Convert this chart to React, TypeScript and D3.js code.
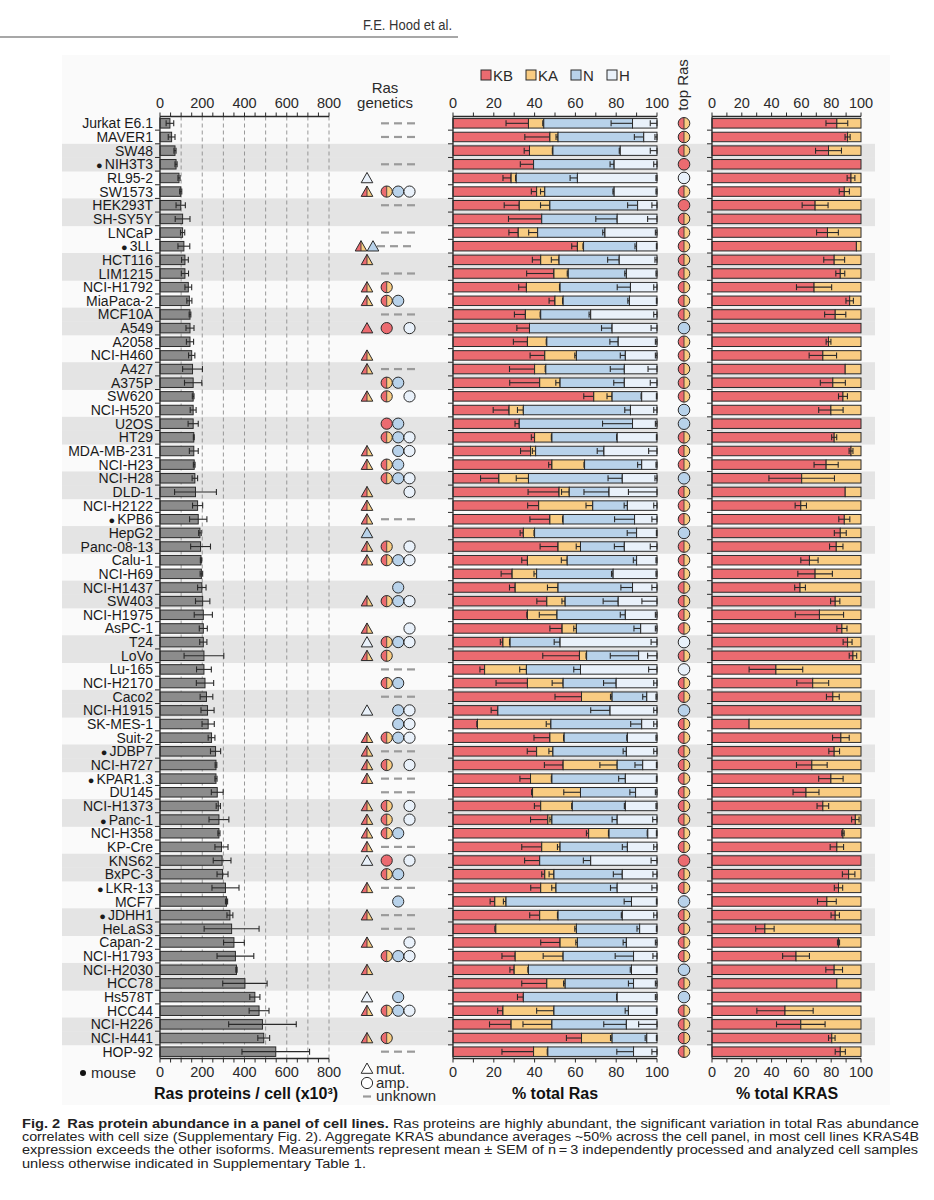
import React from "react";
import * as d3 from "d3";

// cell lines, ordered by total Ras abundance (top to bottom)
const cellLines = [
  "Jurkat E6.1", "MAVER1", "SW48", "NIH3T3", "RL95-2", "SW1573", "HEK293T", "SH-SY5Y",
  "LNCaP", "3LL", "HCT116", "LIM1215", "NCI-H1792", "MiaPaca-2", "MCF10A", "A549",
  "A2058", "NCI-H460", "A427", "A375P", "SW620", "NCI-H520", "U2OS", "HT29",
  "MDA-MB-231", "NCI-H23", "NCI-H28", "DLD-1", "NCI-H2122", "KPB6", "HepG2", "Panc-08-13",
  "Calu-1", "NCI-H69", "NCI-H1437", "SW403", "NCI-H1975", "AsPC-1", "T24", "LoVo",
  "Lu-165", "NCI-H2170", "Caco2", "NCI-H1915", "SK-MES-1", "Suit-2", "JDBP7", "NCI-H727",
  "KPAR1.3", "DU145", "NCI-H1373", "Panc-1", "NCI-H358", "KP-Cre", "KNS62", "BxPC-3",
  "LKR-13", "MCF7", "JDHH1", "HeLaS3", "Capan-2", "NCI-H1793", "NCI-H2030", "HCC78",
  "Hs578T", "HCC44", "NCI-H226", "NCI-H441", "HOP-92",
];
const mouseLines = ["NIH3T3", "3LL", "KPB6", "JDBP7", "KPAR1.3", "Panc-1", "LKR-13", "JDHH1"];

// Ras proteins / cell (x10^3), mean and SEM
const totalRas = [
  47, 55, 71, 76, 90, 98, 98, 107, 107, 113, 118, 118, 134, 139, 142, 142,
  142, 150, 154, 157, 157, 157, 157, 160, 160, 162, 165, 168, 178, 181, 189, 192,
  194, 196, 198, 202, 205, 205, 205, 208, 208, 213, 220, 225, 228, 244, 263, 265,
  265, 271, 276, 279, 279, 291, 294, 296, 310, 315, 331, 339, 350, 357, 362, 402,
  449, 469, 485, 491, 548,
];
const totalRasSem = [
  18, 16, 5, 5, 5, 5, 22, 35, 10, 28, 16, 17, 16, 12, 4, 19,
  17, 15, 47, 41, 4, 14, 24, 2, 21, 4, 13, 99, 24, 41, 6, 47,
  3, 6, 20, 34, 43, 19, 17, 94, 35, 41, 30, 31, 29, 16, 24, 4,
  5, 28, 10, 47, 5, 31, 42, 26, 64, 5, 14, 130, 49, 87, 3, 105,
  24, 47, 160, 28, 160,
];

// % of total Ras per isoform
const kbShare = [
  37, 47.5, 37.5, 39.5, 28.5, 41, 32.5, 43.5, 32, 61, 43, 49.5, 36, 50, 35.5, 37.5,
  36.5, 45, 40, 42.5, 69, 27.5, 32.5, 40, 38, 48.5, 22.5, 52, 42, 47.5, 34.5, 51.5,
  36.5, 29, 30.5, 46, 36.5, 53.5, 24.5, 62, 15.5, 36.5, 63, 22, 12, 47.5, 41, 54,
  38, 39, 43, 46.5, 66.5, 43.5, 42.5, 45, 43, 20.5, 42.5, 21, 52.5, 30.5, 30, 46,
  34.5, 24.5, 28.5, 63, 39.5,
];
const kaShare = [
  7.5, 4, 11.5, 0, 2.5, 4, 15, 0, 9.5, 3, 9, 7, 16.5, 4, 7.5, 0,
  9.5, 15.5, 5.5, 10, 9, 7, 0, 8.5, 2.5, 16, 14.5, 5, 26.5, 6.5, 5.5, 11,
  19.5, 12, 21, 9, 14.5, 7, 3.5, 3.5, 20.5, 17.5, 15, 0, 36, 7, 8, 26.5,
  10.5, 23.5, 15.5, 2, 10, 9, 0, 4.5, 7.5, 5.5, 9, 39.5, 8.5, 23.5, 7, 9,
  0, 25, 20, 15, 7,
];
const nShare = [
  43.5, 42, 33, 39.5, 30, 34, 43, 37, 33, 26, 29.5, 28.5, 34.5, 32.5, 24.5, 40.5,
  35, 24, 38.5, 31.5, 14.5, 52.5, 55.5, 32, 33.5, 28, 46, 19.5, 17, 35, 50, 21.5,
  34, 37.5, 36.5, 26, 33.5, 31.5, 24.5, 25.5, 26.5, 26, 17, 55, 44.5, 31, 36, 12.5,
  36, 27, 26, 32, 19, 33, 25, 33.5, 30, 61.5, 31.5, 31, 24, 34.5, 50.5, 33.5,
  46, 36.5, 36.5, 17, 42,
];
const hShare = [
  12, 6.5, 18, 21, 39, 21, 9.5, 19.5, 25.5, 10, 18.5, 15, 13, 13.5, 32.5, 22,
  19, 15.5, 16, 16, 7.5, 13, 12, 19.5, 26, 7.5, 17, 23.5, 14.5, 11, 10, 16,
  10, 21.5, 12, 19, 15.5, 8, 47.5, 9, 37.5, 20, 5, 23, 7.5, 14.5, 15, 7,
  15.5, 10.5, 15.5, 19.5, 4.5, 14.5, 32.5, 17, 19.5, 12.5, 17, 8.5, 15, 11.5, 12.5, 11.5,
  19.5, 14, 15, 5, 11.5,
];
const kbShareSem = [
  11, 12.3, 2.6, 6.5, 4, 2.6, 7.4, 16.3, 4.6, 2.8, 4.1, 13.4, 3.8, 2.9, 5.4, 6.2,
  6.9, 7.2, 12.3, 14.7, 4.9, 7.8, 2.1, 1.6, 4.9, 1.6, 9, 15.2, 5.4, 9.8, 1.6, 8.8,
  2.8, 5.4, 2.8, 4.9, 0.3, 6, 1.3, 18, 2.3, 15.4, 13, 3.3, 0.3, 7.8, 4.6, 9.2,
  5.2, 0.5, 3.1, 8.5, 1.1, 9.8, 7.4, 1.5, 4.9, 2.3, 4.9, 0.5, 9.5, 6.5, 2.1, 12.3,
  2.9, 2.6, 10.6, 7.4, 15.5,
];
const kaShareSem = [
  0.5, 1, 0.3, 0, 0.3, 2.1, 4.6, 0, 4.4, 0.3, 3.8, 0.5, 0.3, 0.3, 0.3, 0,
  0.3, 0.8, 0.3, 2.1, 2.5, 2.9, 0, 0.3, 1.6, 0.3, 6, 3.8, 3.3, 0.3, 0.3, 2.1,
  2.9, 1.3, 5.2, 1.6, 8.7, 1.3, 0.3, 0.3, 3.3, 5.4, 0.8, 0, 2.3, 0.3, 2, 8.5,
  0.3, 8.2, 0.3, 1, 0.3, 1.3, 0, 2.4, 2.1, 1.3, 0.3, 0.8, 0.8, 9.8, 0.3, 0.8,
  0, 8.5, 14.2, 0.8, 0.3,
];
const nShareSem = [
  10.5, 4.6, 0.5, 2, 3.6, 0.6, 4.9, 10.5, 1.1, 0.8, 5.7, 0.8, 6.5, 0.8, 0.8, 5.2,
  4.1, 2.5, 6.9, 5.2, 0.3, 2.8, 14.7, 0.3, 3.3, 2, 7, 12.3, 1.6, 9.8, 4.6, 4.9,
  1.6, 0.8, 5.7, 7.4, 2.5, 3.3, 2.9, 13.9, 3.3, 6.2, 2, 9.5, 5.4, 0.3, 1.6, 3.8,
  3.3, 2.8, 0.5, 2.5, 0.3, 2.5, 3.6, 4.4, 3.3, 3.6, 0.5, 1.3, 1.6, 9, 0.6, 2.5,
  0.3, 1.6, 11.1, 0.8, 8.2,
];
const hShareSem = [
  3.3, 1, 3.3, 1.6, 0.5, 0.5, 2.5, 4.6, 0.8, 0.3, 1, 0.5, 1.6, 0.3, 1.6, 2.9,
  0.8, 0.8, 4.4, 3.3, 0.3, 1.6, 0.8, 0.3, 4.1, 0.5, 1, 14, 1.6, 2.5, 0.3, 3.3,
  0.5, 0.5, 2.5, 7.4, 0.8, 0.8, 2.9, 4.6, 4.1, 1.6, 0.5, 1.6, 1.6, 0.5, 1.6, 0.3,
  0.3, 0.8, 0.5, 2.1, 0.3, 1.6, 2.9, 2, 2.5, 0.3, 1.6, 0.3, 0.8, 2, 0.3, 0.8,
  0.8, 0.3, 9, 0.3, 2.5,
];

// KRAS4B as % of total KRAS
const kbOfKras = [
  83.8, 91, 78.2, 100, 93.3, 88.8, 69.2, 100, 77.5, 96.9, 82, 86.1, 68.5, 92.4, 82.7, 100,
  78.2, 74.4, 89.4, 81.1, 87.9, 79.8, 100, 82, 93.3, 76.6, 60.2, 89.4, 59.6, 88.8, 86.1, 83.4,
  65.4, 69.2, 59.1, 82.7, 72.1, 87.2, 91, 94.6, 42.9, 67.6, 81.1, 100, 24.9, 86.5, 82, 67,
  79.8, 63.1, 74.4, 96.2, 87.9, 83.8, 100, 91.7, 84.9, 77.1, 82.7, 35.5, 84.9, 56.4, 82, 83.8,
  100, 49, 59.6, 80.4, 86.1,
];
const kbOfKrasSem = [
  7.3, 1.7, 8.7, 0, 2.6, 3.4, 8.7, 0, 7.3, 0, 7, 3, 11.8, 2.5, 7.1, 0,
  1.6, 9.2, 0, 8.4, 3, 8.2, 0, 1.7, 1.3, 8.1, 22, 0, 3.8, 3.7, 4, 4.5,
  5.8, 11.6, 3.6, 3.1, 16.2, 3.4, 3, 2.5, 18, 10.7, 4.3, 0, 0, 5.6, 3.6, 10.3,
  8.2, 8.7, 3.9, 2.5, 0.8, 4.5, 0, 4.2, 2.8, 6.3, 2.8, 6.2, 0.7, 9, 5.6, 0,
  0, 18.9, 16.3, 2.2, 3.4,
];

// most abundant isoform: K = KRAS (4A/4B), R = KRAS4B only, N = NRAS, H = HRAS
const topRas = [
  "K", "K", "K", "R", "H", "K", "R", "K", "K", "K", "K", "K", "K", "K", "K", "N",
  "K", "K", "K", "K", "K", "N", "N", "K", "K", "K", "N", "K", "K", "K", "N", "K",
  "K", "K", "K", "K", "K", "K", "H", "K", "H", "K", "K", "N", "K", "K", "K", "K",
  "K", "K", "K", "K", "K", "K", "R", "K", "K", "N", "K", "K", "K", "K", "N", "K",
  "N", "K", "K", "K", "K",
];

// Ras genetics: KM/KMr/NM/HM = mutation, KA/KAr/NA/HA = amplification, U = unknown
const genetics = [
  "U", "U", "", "U", "HM", "KM KA NA HA", "U", "", "U", "KM NM U", "KM", "U", "KM KA", "KM KA NA", "U", "KMr KAr HA",
  "", "KM", "KM U", "KA NA", "KM KA HA", "", "KAr NA", "KA NA HA", "KM NA HA", "KM KA NA", "KA NA HA", "KM HA", "KM", "KM U", "NM", "KM KA HA",
  "KM KA NA HA", "", "NA", "KM KA NA HA", "", "KM HA", "HM KA NA HA", "KM KA", "U", "KA NA", "U", "HM NA HA", "NA HA", "KM KA NA HA", "KM U", "KM KA HA",
  "KM U", "U", "KM KA HA", "KM KA HA", "KM KA NA", "KM U", "HM KAr HA", "KA NA", "KM U", "NA", "KM U", "U", "KM HA", "KA NA HA", "KM", "",
  "HM NA", "KM KA NA HA", "", "KM KA", "U",
];

const isoforms = ["KB", "KA", "N", "H"];
const isoformColor = { KB: "#eb6b70", KA: "#f9cc82", N: "#b8d2ea", H: "#e9f1fa" };
const captionLines = [
  "correlates with cell size (Supplementary Fig. 2). Aggregate KRAS abundance averages ~50% across the cell panel, in most cell lines KRAS4B",
  "expression exceeds the other isoforms. Measurements represent mean \u00b1 SEM of n\u2009=\u20093 independently processed and analyzed cell samples",
  "unless otherwise indicated in Supplementary Table 1.",
];

const FONT = "'Liberation Sans', Arial, Helvetica, sans-serif";
const INK = "#2a2a2a";

const App = () => {
  const y = d3.scaleBand().domain(cellLines).range([116.5, 1058.5]);
  const bw = y.bandwidth();
  const cy = (name: string) => (y(name) as number) + bw / 2;
  const barH = 9.5;

  const xTot = d3.scaleLinear().domain([0, 800]).range([160, 329]);
  const xRas = d3.scaleLinear().domain([0, 100]).range([453, 657]);
  const xKras = d3.scaleLinear().domain([0, 100]).range([712, 861]);

  const rows = cellLines.map((name, i) => ({
    name,
    KB: kbShare[i],
    KA: kaShare[i],
    N: nShare[i],
    H: hShare[i],
  }));
  const series = d3.stack().keys(isoforms)(rows as any);
  const semOf: Record<string, number[]> = { KB: kbShareSem, KA: kaShareSem, N: nShareSem, H: hShareSem };

  const axisTop = 116.5;
  const axisBottom = 1058.5;

  const hAxis = (scale: d3.ScaleLinear<number, number>, step: number, labelStep: number, yPos: number, dir: number, key: string) => {
    const [d0, d1] = scale.domain();
    const ticks = d3.range(d0, d1 + 0.001, step);
    return (
      <g key={key}>
        <line x1={scale(d0)} x2={scale(d1)} y1={yPos} y2={yPos} stroke={INK} strokeWidth={1.3} />
        {ticks.map((t) => (
          <line key={t} x1={scale(t)} x2={scale(t)} y1={yPos} y2={yPos + dir * 4} stroke={INK} strokeWidth={1} />
        ))}
        {ticks
          .filter((t) => Math.abs(t % labelStep) < 1e-6)
          .map((t) => (
            <text
              key={"l" + t}
              x={scale(t)}
              y={dir < 0 ? yPos - 8.5 : yPos + 18.5}
              textAnchor="middle"
              fontSize={14.5}
              fill={INK}
            >
              {t}
            </text>
          ))}
      </g>
    );
  };

  const vAxis = (x0: number, key: string) => (
    <g key={key}>
      <line x1={x0} x2={x0} y1={axisTop} y2={axisBottom} stroke={INK} strokeWidth={1.3} />
      {cellLines.slice(1).map((name) => (
        <line key={name} x1={x0 - 5} x2={x0} y1={y(name)} y2={y(name)} stroke={INK} strokeWidth={1} />
      ))}
    </g>
  );

  const triangle = (kind: string, cx: number, cyy: number, key: string) => {
    const w = 5.8;
    const top = cyy - 5.5;
    const bot = cyy + 4.8;
    const outline = `M${cx - w},${bot}L${cx},${top}L${cx + w},${bot}Z`;
    if (kind === "KM") {
      return (
        <g key={key}>
          <path d={`M${cx - w},${bot}L${cx},${top}L${cx},${bot}Z`} fill={isoformColor.KB} />
          <path d={`M${cx},${bot}L${cx},${top}L${cx + w},${bot}Z`} fill={isoformColor.KA} />
          <line x1={cx} x2={cx} y1={top} y2={bot} stroke={INK} strokeWidth={0.8} />
          <path d={outline} fill="none" stroke={INK} strokeWidth={1} strokeLinejoin="round" />
        </g>
      );
    }
    const fill = kind === "KMr" ? isoformColor.KB : kind === "NM" ? isoformColor.N : kind === "legend" ? "#fff" : isoformColor.H;
    return <path key={key} d={outline} fill={fill} stroke={INK} strokeWidth={1} strokeLinejoin="round" />;
  };

  const circle = (kind: string, cx: number, cyy: number, key: string, r = 5.6) => {
    if (kind === "half") {
      return (
        <g key={key}>
          <path d={`M${cx},${cyy - r}A${r},${r} 0 0 0 ${cx},${cyy + r}Z`} fill={isoformColor.KB} />
          <path d={`M${cx},${cyy - r}A${r},${r} 0 0 1 ${cx},${cyy + r}Z`} fill={isoformColor.KA} />
          <line x1={cx} x2={cx} y1={cyy - r} y2={cyy + r} stroke={INK} strokeWidth={0.8} />
          <circle cx={cx} cy={cyy} r={r} fill="none" stroke={INK} strokeWidth={1} />
        </g>
      );
    }
    const fill = kind === "red" ? isoformColor.KB : kind === "blue" ? isoformColor.N : isoformColor.H;
    return <circle key={key} cx={cx} cy={cyy} r={r} fill={fill} stroke={INK} strokeWidth={1} />;
  };

  const dashes = (x0: number, cyy: number, key: string) => (
    <g key={key}>
      {[0, 1, 2].map((k) => (
        <line key={k} x1={x0 + k * 13} x2={x0 + k * 13 + 8} y1={cyy} y2={cyy} stroke="#9a9a9a" strokeWidth={2.2} />
      ))}
    </g>
  );

  return (
    <svg
      width={934}
      height={1200}
      style={{ position: "absolute", left: 0, top: 0, background: "#fff" }}
      fontFamily={FONT}
    >
      {/* page header */}
      <text x={452} y={30} textAnchor="end" fontSize={14} fill="#333" textLength={89} lengthAdjust="spacingAndGlyphs">
        F.E. Hood et al.
      </text>
      <line x1={0} x2={458} y1={37} y2={37} stroke="#8a8a8a" strokeWidth={1.3} />

      {/* figure background */}
      <rect x={62} y={55} width={828} height={1050} fill="#fafafa" />

      {/* row bands */}
      {cellLines.map((name, i) =>
        i % 4 === 2 || i % 4 === 3 ? (
          <rect key={name} x={62} y={y(name)} width={813} height={bw + 0.4} fill="#e4e4e4" />
        ) : null
      )}

      {/* ---- total Ras panel ---- */}
      {d3.range(100, 801, 100).map((t) => (
        <line
          key={t}
          x1={xTot(t)}
          x2={xTot(t)}
          y1={axisTop}
          y2={axisBottom}
          stroke="#8d8d8d"
          strokeWidth={0.9}
          strokeDasharray="4,3"
        />
      ))}
      {cellLines.map((name, i) => {
        const c = cy(name);
        const v = totalRas[i];
        const e = totalRasSem[i];
        return (
          <g key={name}>
            <rect x={xTot(0)} y={c - barH / 2} width={xTot(v) - xTot(0)} height={barH} fill="#8c8c8c" stroke={INK} strokeWidth={1} />
            <line x1={xTot(v - e)} x2={xTot(v + e)} y1={c} y2={c} stroke={INK} strokeWidth={1.1} />
            <line x1={xTot(v - e)} x2={xTot(v - e)} y1={c - 3} y2={c + 3} stroke={INK} strokeWidth={1.1} />
            <line x1={xTot(v + e)} x2={xTot(v + e)} y1={c - 3} y2={c + 3} stroke={INK} strokeWidth={1.1} />
          </g>
        );
      })}
      {vAxis(xTot(0), "vTot")}
      {hAxis(xTot, 50, 200, axisTop, -1, "tTot")}
      {hAxis(xTot, 50, 200, axisBottom, 1, "bTot")}
      {cellLines.map((name) => (
        <text key={name} x={153} y={cy(name) + 5} textAnchor="end" fontSize={14} fill="#1a1a1a">
          {mouseLines.includes(name) ? (
            <>
              <tspan fontSize={11}>{"\u25cf"}</tspan>
              <tspan dx={2}>{name}</tspan>
            </>
          ) : (
            name
          )}
        </text>
      ))}

      {/* ---- Ras genetics ---- */}
      <text x={385} y={93} textAnchor="middle" fontSize={15} fill={INK}>Ras</text>
      <text x={385} y={108} textAnchor="middle" fontSize={15} fill={INK}>genetics</text>
      {cellLines.map((name, i) => {
        const c = cy(name);
        const tokens = genetics[i].split(" ").filter(Boolean);
        const tris = tokens.filter((t) => t.endsWith("M") || t === "KMr");
        const out: React.ReactNode[] = [];
        tris.forEach((t, j) => {
          const cx = 367 + (j - (tris.length - 1) / 2) * 12;
          out.push(triangle(t, cx, c, "t" + j));
        });
        tokens.forEach((t) => {
          if (t === "KA") out.push(circle("half", 386.7, c, t));
          if (t === "KAr") out.push(circle("red", 386.7, c, t));
          if (t === "NA") out.push(circle("blue", 398.2, c, t));
          if (t === "HA") out.push(circle("white", 409.5, c, t));
          if (t === "U") out.push(dashes(tris.length > 1 ? 377 : 381, c, t));
        });
        return <g key={name}>{out}</g>;
      })}

      {/* ---- % total Ras panel ---- */}
      {[
        ["KB", 481],
        ["KA", 526],
        ["N", 571],
        ["H", 607],
      ].map(([k, x]) => (
        <g key={k as string}>
          <rect x={x as number} y={70} width={10} height={10} fill={(isoformColor as any)[k as string]} stroke={INK} strokeWidth={1} />
          <text x={(x as number) + 12} y={80.5} fontSize={15} fill={INK}>
            {k}
          </text>
        </g>
      ))}
      {series.map((s) => (
        <g key={s.key}>
          {s.map((d, i) => {
            const c = cy(cellLines[i]);
            const e = semOf[s.key][i];
            const x1 = xRas(d[1]);
            const xe = xRas(d[1] - e);
            return (
              <g key={i}>
                <rect
                  x={xRas(d[0])}
                  y={c - barH / 2}
                  width={Math.max(0, xRas(d[1]) - xRas(d[0]))}
                  height={barH}
                  fill={(isoformColor as any)[s.key]}
                  stroke={INK}
                  strokeWidth={1}
                />
                {e > 0 ? (
                  <g stroke={INK} strokeWidth={1.1}>
                    <line x1={xe} x2={x1} y1={c} y2={c} />
                    <line x1={xe} x2={xe} y1={c - 3} y2={c + 3} />
                    <line x1={x1} x2={x1} y1={c - 3} y2={c + 3} />
                  </g>
                ) : null}
              </g>
            );
          })}
        </g>
      ))}
      {vAxis(xRas(0), "vRas")}
      {hAxis(xRas, 10, 20, axisTop, -1, "tRas")}
      {hAxis(xRas, 10, 20, axisBottom, 1, "bRas")}

      {/* ---- top Ras ---- */}
      <text transform="translate(688,85) rotate(-90)" textAnchor="middle" fontSize={15} fill={INK}>
        top Ras
      </text>
      {cellLines.map((name, i) => {
        const t = topRas[i];
        const kind = t === "K" ? "half" : t === "R" ? "red" : t === "N" ? "blue" : "white";
        return circle(kind, 684, cy(name), name, 5.8);
      })}

      {/* ---- % total KRAS panel ---- */}
      {cellLines.map((name, i) => {
        const c = cy(name);
        const v = kbOfKras[i];
        const e = kbOfKrasSem[i];
        return (
          <g key={name}>
            <rect x={xKras(0)} y={c - barH / 2} width={xKras(v) - xKras(0)} height={barH} fill={isoformColor.KB} stroke={INK} strokeWidth={1} />
            {v < 100 ? (
              <rect x={xKras(v)} y={c - barH / 2} width={xKras(100) - xKras(v)} height={barH} fill={isoformColor.KA} stroke={INK} strokeWidth={1} />
            ) : null}
            {e > 0 ? (
              <g stroke={INK} strokeWidth={1.1}>
                <line x1={xKras(v - e)} x2={xKras(v + e)} y1={c} y2={c} />
                <line x1={xKras(v - e)} x2={xKras(v - e)} y1={c - 3} y2={c + 3} />
                <line x1={xKras(v + e)} x2={xKras(v + e)} y1={c - 3} y2={c + 3} />
              </g>
            ) : null}
          </g>
        );
      })}
      {vAxis(xKras(0), "vKras")}
      {hAxis(xKras, 10, 20, axisTop, -1, "tKras")}
      {hAxis(xKras, 10, 20, axisBottom, 1, "bKras")}

      {/* ---- axis titles & legends ---- */}
      <text x={246} y={1099} textAnchor="middle" fontSize={16} fontWeight="bold" fill="#111">
        Ras proteins / cell (x10{"\u00b3"})
      </text>
      <text x={555} y={1099} textAnchor="middle" fontSize={16} fontWeight="bold" fill="#111">
        % total Ras
      </text>
      <text x={787} y={1099} textAnchor="middle" fontSize={16} fontWeight="bold" fill="#111">
        % total KRAS
      </text>
      <circle cx={83} cy={1073} r={3} fill="#111" />
      <text x={91} y={1078} fontSize={15} fill={INK}>mouse</text>
      {triangle("legend", 367, 1068.5, "lgT")}
      <text x={376} y={1073.5} fontSize={15} fill={INK}>mut.</text>
      <circle cx={367} cy={1083} r={5.6} fill="#fff" stroke={INK} strokeWidth={1} />
      <text x={376} y={1088} fontSize={15} fill={INK}>amp.</text>
      <line x1={363} x2={371} y1={1096.5} y2={1096.5} stroke="#9a9a9a" strokeWidth={2.2} />
      <text x={376} y={1101} fontSize={15} fill={INK}>unknown</text>

      {/* ---- caption ---- */}
      <text x={22} y={1127.5} fontSize={12.5} fill="#222" textLength={897} lengthAdjust="spacingAndGlyphs">
        <tspan fontWeight="bold">Fig. 2</tspan>
        <tspan fontWeight="bold" dx={6}>Ras protein abundance in a panel of cell lines.</tspan>
        <tspan> Ras proteins are highly abundant, the significant variation in total Ras abundance</tspan>
      </text>
      {captionLines.map((line, i) => (
        <text
          key={i}
          x={22}
          y={1141 + i * 13.4}
          fontSize={12.5}
          fill="#222"
          textLength={i === 2 ? 344 : i === 0 ? 897 : 896}
          lengthAdjust="spacingAndGlyphs"
        >
          {line}
        </text>
      ))}
    </svg>
  );
};

export default App;
